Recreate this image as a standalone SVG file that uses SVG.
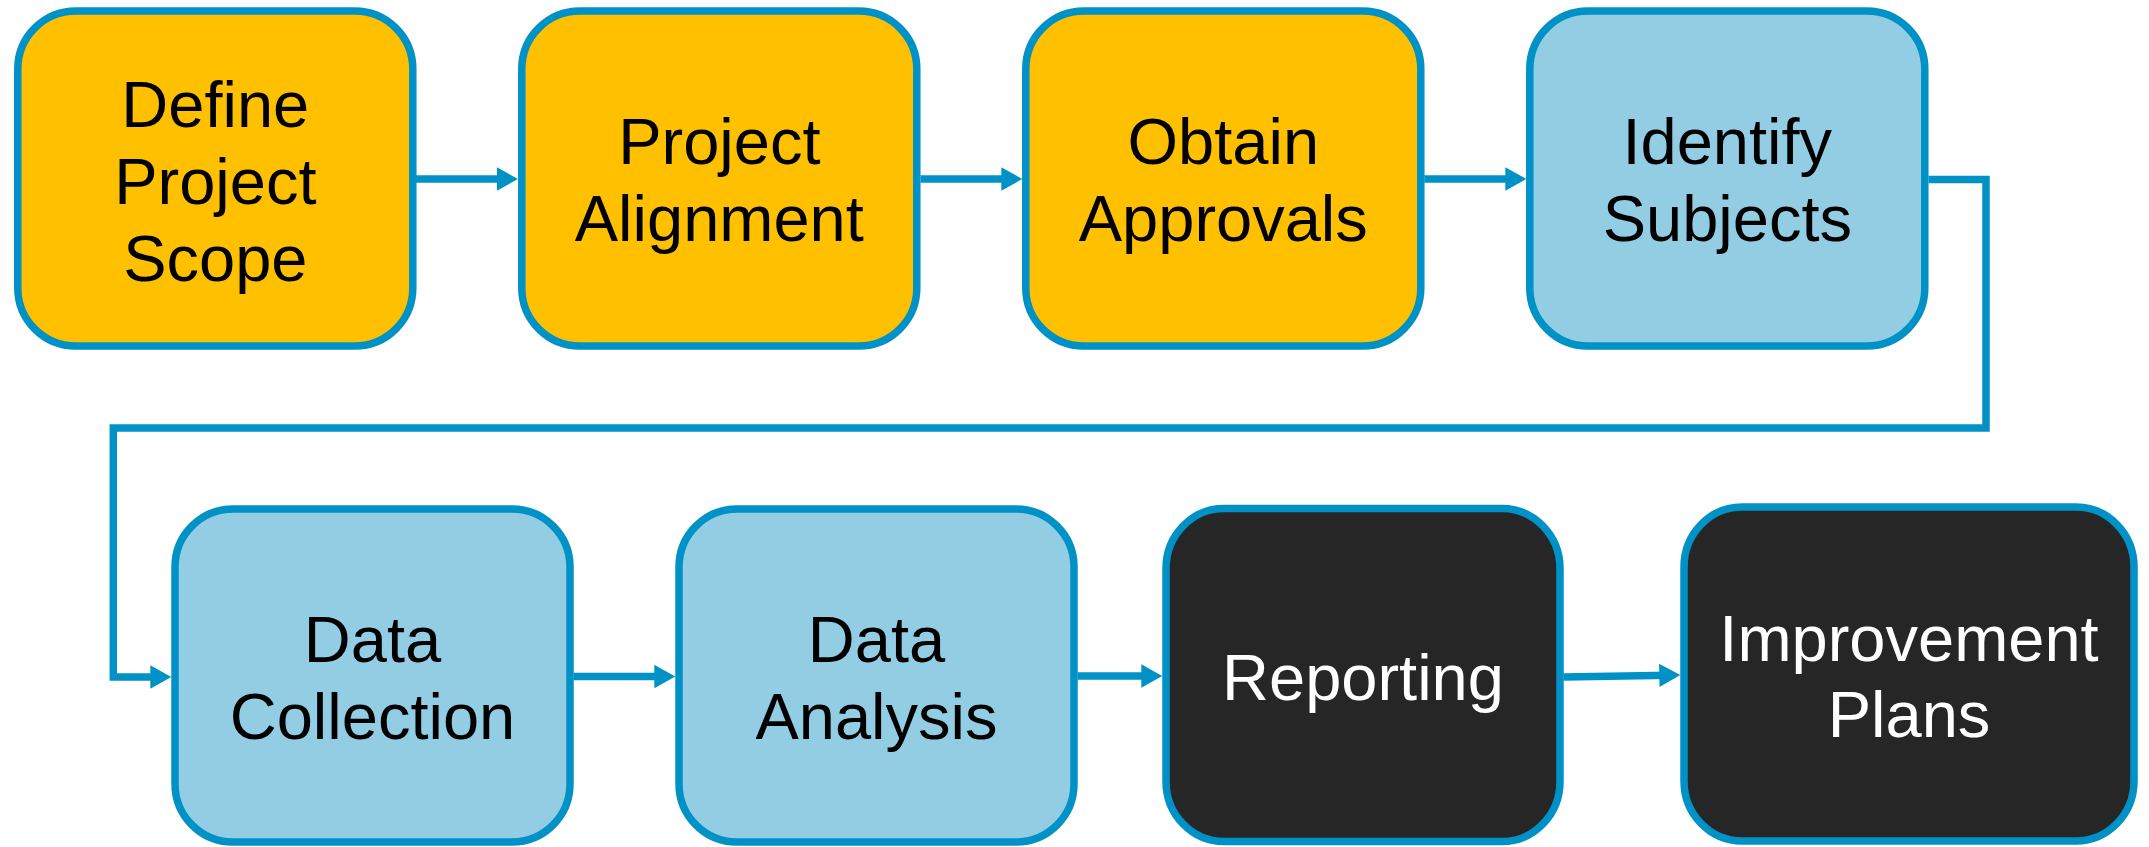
<svg xmlns="http://www.w3.org/2000/svg" width="2149" height="847" viewBox="0 0 2149 847">
  <style>
    .box { stroke: #0092C7; stroke-width: 7.5; }
    .amber { fill: #FFC000; }
    .sky { fill: #93CDE3; }
    .dark { fill: #262626; }
    .label { font-family: "Liberation Sans", Arial, sans-serif; font-size: 65px; text-anchor: middle; fill: #000000; }
    .label.light { fill: #FFFFFF; }
    .wire { fill: none; stroke: #0092C7; stroke-width: 7.5; stroke-linejoin: miter; }
  </style>
  <defs>
    <marker id="arrow" markerUnits="userSpaceOnUse" markerWidth="22" markerHeight="24" refX="11" refY="11.7" orient="auto">
      <path d="M0,0 L21,11.7 L0,23.4 Z" fill="#0092C7"/>
    </marker>
  </defs>
  <rect width="2149" height="847" fill="#FFFFFF"/>

  <!-- first row -->
  <g id="define-project-scope">
    <rect class="box amber" x="17.8" y="11" width="395" height="335" rx="58" ry="58"/>
    <text class="label" x="215.3" y="126.5">Define</text>
    <text class="label" x="215.3" y="203.5">Project</text>
    <text class="label" x="215.3" y="280.5">Scope</text>
  </g>
  <g id="project-alignment">
    <rect class="box amber" x="521.8" y="11" width="395" height="335" rx="58" ry="58"/>
    <text class="label" x="719.3" y="163.5">Project</text>
    <text class="label" x="719.3" y="240.5">Alignment</text>
  </g>
  <g id="obtain-approvals">
    <rect class="box amber" x="1025.8" y="11" width="395" height="335" rx="58" ry="58"/>
    <text class="label" x="1223.3" y="163.5">Obtain</text>
    <text class="label" x="1223.3" y="240.5">Approvals</text>
  </g>
  <g id="identify-subjects">
    <rect class="box sky" x="1529.8" y="11" width="395" height="335" rx="58" ry="58"/>
    <text class="label" x="1727.3" y="164">Identify</text>
    <text class="label" x="1727.3" y="241">Subjects</text>
  </g>

  <!-- second row -->
  <g id="data-collection">
    <rect class="box sky" x="175" y="509" width="395" height="333" rx="58" ry="58"/>
    <text class="label" x="372.5" y="662">Data</text>
    <text class="label" x="372.5" y="739">Collection</text>
  </g>
  <g id="data-analysis">
    <rect class="box sky" x="679" y="509" width="395" height="333" rx="58" ry="58"/>
    <text class="label" x="876.5" y="662">Data</text>
    <text class="label" x="876.5" y="739">Analysis</text>
  </g>
  <g id="reporting">
    <rect class="box dark" x="1166" y="508.5" width="394" height="333" rx="58" ry="60"/>
    <text class="label light" x="1363" y="700">Reporting</text>
  </g>
  <g id="improvement-plans">
    <rect class="box dark" x="1684" y="507" width="450" height="334" rx="58" ry="60"/>
    <text class="label light" x="1909" y="661">Improvement</text>
    <text class="label light" x="1909" y="737">Plans</text>
  </g>

  <!-- flow connectors -->
  <g id="connectors">
    <path class="wire" d="M416,179 L508,179" marker-end="url(#arrow)"/>
    <path class="wire" d="M920.5,179 L1012.3,179" marker-end="url(#arrow)"/>
    <path class="wire" d="M1424.3,179 L1516.3,179" marker-end="url(#arrow)"/>
    <path class="wire" d="M1928.5,179.5 L1986,179.5 L1986,428 L113.3,428 L113.3,677 L161.3,677" marker-end="url(#arrow)"/>
    <path class="wire" d="M573.5,676.5 L665.3,676.5" marker-end="url(#arrow)"/>
    <path class="wire" d="M1077.5,676 L1152.3,676" marker-end="url(#arrow)"/>
    <path class="wire" d="M1563.5,677 L1670.3,675.2" marker-end="url(#arrow)"/>
  </g>
</svg>
